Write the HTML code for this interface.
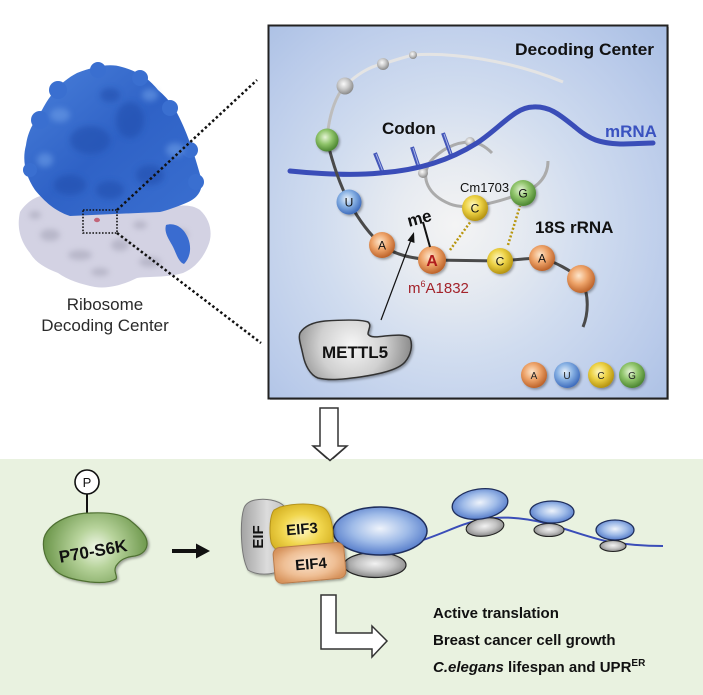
<!DOCTYPE html>
<html><head><meta charset="utf-8"><style>
html,body{margin:0;padding:0;background:#fff;}
svg{display:block;font-family:"Liberation Sans",Arial,sans-serif;}
</style></head><body>
<svg width="703" height="695" viewBox="0 0 703 695" xmlns="http://www.w3.org/2000/svg">
<defs>
<radialGradient id="panelBg" gradientUnits="userSpaceOnUse" cx="455" cy="225" r="300">
<stop offset="0" stop-color="#f4f4f4"/><stop offset="0.2" stop-color="#e7ebf1"/><stop offset="0.45" stop-color="#d0dcef"/><stop offset="0.75" stop-color="#bacbea"/><stop offset="1" stop-color="#a6bce2"/>
</radialGradient>
<radialGradient id="gO" cx="0.42" cy="0.38" r="0.62"><stop offset="0" stop-color="#fde6cc"/><stop offset="0.5" stop-color="#eea46a"/><stop offset="1" stop-color="#bd632a"/></radialGradient>
<radialGradient id="gB" cx="0.42" cy="0.38" r="0.62"><stop offset="0" stop-color="#e8f1fb"/><stop offset="0.5" stop-color="#86b0e3"/><stop offset="1" stop-color="#3e6cbd"/></radialGradient>
<radialGradient id="gY" cx="0.42" cy="0.38" r="0.62"><stop offset="0" stop-color="#fff8bf"/><stop offset="0.5" stop-color="#ecd144"/><stop offset="1" stop-color="#b59310"/></radialGradient>
<radialGradient id="gG" cx="0.42" cy="0.38" r="0.62"><stop offset="0" stop-color="#e5f4d6"/><stop offset="0.5" stop-color="#8fc46a"/><stop offset="1" stop-color="#4c8631"/></radialGradient>
<radialGradient id="gGr" cx="0.42" cy="0.38" r="0.62"><stop offset="0" stop-color="#fafafa"/><stop offset="0.5" stop-color="#c9c9c9"/><stop offset="1" stop-color="#8a8a8a"/></radialGradient>
<radialGradient id="gMet" gradientUnits="userSpaceOnUse" cx="352" cy="345" r="65"><stop offset="0" stop-color="#f6f6f6"/><stop offset="0.5" stop-color="#d0d0d0"/><stop offset="1" stop-color="#7e7e7e"/></radialGradient>
<radialGradient id="gP70" gradientUnits="userSpaceOnUse" cx="96" cy="548" r="58"><stop offset="0" stop-color="#f0f7e8"/><stop offset="0.35" stop-color="#b7d39b"/><stop offset="1" stop-color="#5f8c3d"/></radialGradient>
<radialGradient id="gRibB" cx="0.5" cy="0.45" r="0.6"><stop offset="0" stop-color="#eef3fb"/><stop offset="0.5" stop-color="#9fbbe8"/><stop offset="1" stop-color="#466fc4"/></radialGradient>
<radialGradient id="gRibG" cx="0.5" cy="0.45" r="0.6"><stop offset="0" stop-color="#f2f2f2"/><stop offset="0.5" stop-color="#c3c3c3"/><stop offset="1" stop-color="#7c7c7c"/></radialGradient>
<radialGradient id="gE3" cx="0.5" cy="0.5" r="0.6"><stop offset="0" stop-color="#fff9c8"/><stop offset="0.5" stop-color="#f1d64e"/><stop offset="1" stop-color="#d2ad1d"/></radialGradient>
<radialGradient id="gE4" cx="0.5" cy="0.5" r="0.6"><stop offset="0" stop-color="#fbe4cf"/><stop offset="0.6" stop-color="#efbf95"/><stop offset="1" stop-color="#d7935c"/></radialGradient>
<linearGradient id="gEIF" x1="0" y1="0" x2="1" y2="0"><stop offset="0" stop-color="#a3a3a3"/><stop offset="0.6" stop-color="#dcdcdc"/><stop offset="1" stop-color="#c4c4c4"/></linearGradient>
<linearGradient id="gBlueRib" x1="0" y1="0" x2="1" y2="1"><stop offset="0" stop-color="#4a80da"/><stop offset="0.5" stop-color="#2f62c6"/><stop offset="1" stop-color="#3a6fd0"/></linearGradient>
<filter id="sh" x="-20%" y="-20%" width="140%" height="140%"><feDropShadow dx="1.5" dy="1.5" stdDeviation="1.2" flood-color="#000" flood-opacity="0.35"/></filter>
<filter id="bl" x="-50%" y="-50%" width="200%" height="200%"><feGaussianBlur stdDeviation="3"/></filter>
</defs>

<!-- Ribosome -->
<path d="M20,212 C28,200 40,193 55,195 L80,208 L160,210 C175,205 190,203 200,210 C211,220 213,235 208,246 C203,258 195,268 183,273 C165,278 150,276 137,278 C125,284 110,289 95,287 C80,284 68,280 58,273 C45,268 35,262 30,253 C22,243 16,230 20,212 Z" fill="#d3d2e3"/>
<g fill="#a6a5b8" opacity="0.6" filter="url(#bl)">
<ellipse cx="50" cy="235" rx="10" ry="6"/><ellipse cx="80" cy="255" rx="12" ry="5"/><ellipse cx="120" cy="245" rx="9" ry="6"/><ellipse cx="150" cy="262" rx="11" ry="5"/><ellipse cx="180" cy="235" rx="8" ry="6"/><ellipse cx="100" cy="272" rx="9" ry="4"/><ellipse cx="140" cy="225" rx="7" ry="4"/><ellipse cx="35" cy="215" rx="6" ry="4"/>
</g>
<path d="M77,73 C95,66 110,63 122,67 C140,72 150,80 158,90 C170,100 176,110 181,121 C190,140 196,160 201,178 C204,190 197,199 186,203 C176,207 168,210 160,212 L70,216 C55,211 45,202 35,190 C25,175 22,160 26,145 C28,130 35,120 42,110 C50,95 60,82 77,73 Z" fill="url(#gBlueRib)"/>
<g fill="#3a6fd0">
<circle cx="40" cy="120" r="9"/><circle cx="58" cy="90" r="9"/><circle cx="98" cy="70" r="8"/><circle cx="140" cy="78" r="8"/><circle cx="170" cy="108" r="8"/><circle cx="190" cy="150" r="8"/><circle cx="196" cy="182" r="8"/><circle cx="30" cy="170" r="7"/>
</g>
<g fill="#2450ae" opacity="0.6" filter="url(#bl)">
<ellipse cx="90" cy="140" rx="20" ry="14"/><ellipse cx="130" cy="120" rx="14" ry="18"/><ellipse cx="70" cy="185" rx="16" ry="10"/><ellipse cx="150" cy="175" rx="14" ry="10"/><ellipse cx="110" cy="95" rx="10" ry="7"/><ellipse cx="110" cy="190" rx="14" ry="9"/>
</g>
<g fill="#6a9be6" opacity="0.6" filter="url(#bl)">
<ellipse cx="60" cy="115" rx="10" ry="7"/><ellipse cx="150" cy="95" rx="8" ry="6"/><ellipse cx="175" cy="150" rx="9" ry="7"/><ellipse cx="45" cy="160" rx="8" ry="7"/>
</g>
<path d="M166,225 C175,222 184,228 188,238 C192,248 190,258 184,264 C178,262 176,252 172,245 C168,238 164,232 166,225 Z" fill="#3a6cd0"/>
<rect x="83" y="210" width="34" height="23" fill="none" stroke="#111" stroke-width="1.6" stroke-dasharray="1.6 1.6"/>
<ellipse cx="97" cy="220" rx="3" ry="2.2" fill="#c26579"/>
<line x1="117" y1="210" x2="257" y2="80" stroke="#111" stroke-width="2.5" stroke-dasharray="2.5 2.5"/>
<line x1="117" y1="233" x2="261" y2="343" stroke="#111" stroke-width="2.5" stroke-dasharray="2.5 2.5"/>
<text x="105" y="310" font-size="17" text-anchor="middle" fill="#2a2a2a">Ribosome</text>
<text x="105" y="331" font-size="17" text-anchor="middle" fill="#2a2a2a">Decoding Center</text>

<!-- Panel -->
<rect x="270" y="27" width="399" height="373" fill="#888" opacity="0.5"/>
<rect x="268.5" y="25.5" width="399" height="373" fill="url(#panelBg)" stroke="#222" stroke-width="2"/>
<text x="515" y="55" font-size="17" font-weight="bold" fill="#111" textLength="139" lengthAdjust="spacingAndGlyphs">Decoding Center</text>

<!-- upper grey arc -->
<path d="M327,140 C329,112 337,94 345,86 C356,75 370,66 383,64 C395,60 405,57 413,55 C450,52 510,60 563,82" fill="none" stroke="#e4e4e4" stroke-width="3"/>
<path d="M327,140 C329,112 337,94 345,86" fill="none" stroke="#bdbdbd" stroke-width="3"/>
<circle cx="345" cy="86" r="8.5" fill="url(#gGr)"/>
<circle cx="383" cy="64" r="6" fill="url(#gGr)"/>
<circle cx="413" cy="55" r="4" fill="url(#gGr)"/>

<!-- inner loop -->
<path d="M492,153 C485,146 478,142 470,142 C455,142 440,150 430,162 C420,178 428,195 450,204 C465,210 490,205 523,193 C540,186 548,175 548,161" fill="none" stroke="#ababab" stroke-width="3"/>
<circle cx="470" cy="142" r="5" fill="url(#gGr)"/>
<circle cx="423" cy="173" r="5" fill="url(#gGr)"/>

<!-- codon ticks -->
<g stroke="#4356b8" stroke-width="4" stroke-linecap="butt">
<line x1="375" y1="153" x2="383" y2="173"/>
<line x1="412" y1="147" x2="419" y2="168"/>
<line x1="443" y1="133" x2="451" y2="155"/>
</g>
<g stroke="#aab6e8" stroke-width="1">
<line x1="376" y1="154" x2="383" y2="172"/>
<line x1="413" y1="148" x2="419" y2="167"/>
<line x1="444" y1="134" x2="451" y2="154"/>
</g>
<!-- mRNA -->
<path d="M290,171 C330,175 360,175 380,173 C420,170 450,160 477,143 C500,128 515,107 533,107 C550,106 560,115 575,127 C590,140 600,143 620,144 C635,144 645,143 653,143" fill="none" stroke="#3a4db8" stroke-width="5" stroke-linecap="round"/>
<text x="382" y="134" font-size="17" font-weight="bold" fill="#111">Codon</text>
<text x="605" y="137" font-size="17" font-weight="bold" fill="#3a52c0">mRNA</text>

<!-- rRNA strand -->
<path d="M327,140 C333,165 340,185 349,202 C360,222 370,235 382,245 C395,255 410,258 432,260 L500,261 C515,260 530,258 542,258 C555,262 570,270 581,279 C590,295 588,315 583,327" fill="none" stroke="#4a4a4a" stroke-width="3"/>
<line x1="450" y1="250" x2="471" y2="221" stroke="#b8960e" stroke-width="2.5" stroke-dasharray="2 2"/>
<line x1="508" y1="245" x2="520" y2="206" stroke="#b8960e" stroke-width="2.5" stroke-dasharray="2 2"/>

<g filter="url(#sh)">
<circle cx="327" cy="140" r="11.5" fill="url(#gG)"/>
<circle cx="349" cy="202" r="12.5" fill="url(#gB)"/>
<circle cx="382" cy="245" r="13" fill="url(#gO)"/>
<circle cx="432" cy="260" r="14" fill="url(#gO)"/>
<circle cx="500" cy="261" r="13" fill="url(#gY)"/>
<circle cx="542" cy="258" r="13" fill="url(#gO)"/>
<circle cx="581" cy="279" r="14" fill="url(#gO)"/>
<circle cx="475" cy="208" r="13" fill="url(#gY)"/>
<circle cx="523" cy="193" r="13" fill="url(#gG)"/>
<circle cx="534" cy="375" r="13" fill="url(#gO)"/>
<circle cx="567" cy="375" r="13" fill="url(#gB)"/>
<circle cx="601" cy="375" r="13" fill="url(#gY)"/>
<circle cx="632" cy="375" r="13" fill="url(#gG)"/>
</g>
<g font-size="12" text-anchor="middle" fill="#111">
<text x="349" y="206.5">U</text>
<text x="382" y="249.5">A</text>
<text x="500" y="265.5">C</text>
<text x="542" y="262.5">A</text>
<text x="475" y="212.5">C</text>
<text x="523" y="197.5">G</text>
</g>
<g font-size="10" text-anchor="middle" fill="#222">
<text x="534" y="379">A</text>
<text x="567" y="379">U</text>
<text x="601" y="379">C</text>
<text x="632" y="379">G</text>
</g>
<text x="432" y="266" font-size="16" font-weight="bold" text-anchor="middle" fill="#b01c1c">A</text>
<text x="460" y="192" font-size="13" fill="#111">Cm1703</text>
<text x="535" y="233" font-size="17" font-weight="bold" fill="#111">18S rRNA</text>
<text x="408" y="293" font-size="15" fill="#a3232b">m<tspan font-size="9" dy="-6">6</tspan><tspan dy="6">A1832</tspan></text>
<text x="407" y="224" font-size="17" font-weight="bold" fill="#111" transform="rotate(-15 419 218)">me</text>
<line x1="423" y1="222" x2="430" y2="247" stroke="#111" stroke-width="2"/>
<line x1="381" y1="320" x2="411" y2="240" stroke="#111" stroke-width="1.2"/>
<polygon points="414,232 414.5,243 407.5,240.5" fill="#111"/>

<!-- METTL5 -->
<path d="M300,333 C305,325 315,322 325,321 C340,320 360,319 368,322 C372,325 368,330 368,334 C370,338 378,337 385,336 C395,335 405,334 410,338 C413,345 411,355 405,362 C398,370 380,374 360,377 C345,379 330,381 318,378 C310,375 305,365 303,355 C301,345 298,338 300,333 Z" fill="url(#gMet)" stroke="#333" stroke-width="1.5" filter="url(#sh)"/>
<text x="355" y="358" font-size="17" font-weight="bold" text-anchor="middle" fill="#111">METTL5</text>

<!-- down hollow arrow -->
<polygon points="320,408 338,408 338,446 347,446 330,461 313,446 320,446" fill="#fff" stroke="#333" stroke-width="1.5"/>

<!-- Bottom green region -->
<rect x="0" y="459" width="703" height="236" fill="#e9f2e0"/>
<path d="M314,446.7 L330,460.5 L346,446.7" fill="none" stroke="#333" stroke-width="1.5"/>

<!-- P70-S6K -->
<line x1="87" y1="494" x2="87" y2="514" stroke="#111" stroke-width="2"/>
<circle cx="87" cy="482" r="12" fill="#fff" stroke="#111" stroke-width="1.6"/>
<text x="87" y="487" font-size="13" text-anchor="middle" fill="#111">P</text>
<path d="M90,513 C110,512 125,515 132,522 C142,530 148,538 147,545 C146,552 140,555 135,556 C125,557 120,560 116,566 C113,572 118,576 116,579 C110,583 100,583 90,582 C75,580 60,577 53,568 C45,560 42,548 44,538 C47,528 57,521 68,517 C76,514 84,513 90,513 Z" fill="url(#gP70)" stroke="#4f7033" stroke-width="1.2" filter="url(#sh)"/>
<text x="93" y="557" font-size="17" font-weight="bold" text-anchor="middle" fill="#111" transform="rotate(-10 93 551)">P70-S6K</text>
<line x1="172" y1="551" x2="199" y2="551" stroke="#111" stroke-width="4"/>
<polygon points="196,543.5 210,551 196,558.5" fill="#111"/>

<!-- polysome mRNA -->
<path d="M420,541 C445,533 460,524 480,520 C500,516 520,517 545,523 C570,530 590,538 610,542 C630,545 650,546 663,546" fill="none" stroke="#3a4db8" stroke-width="2"/>

<!-- ribosome 1 -->
<ellipse cx="375" cy="565" rx="31" ry="12.5" fill="url(#gRibG)" stroke="#222" stroke-width="1.2"/>
<ellipse cx="380" cy="531" rx="47" ry="24" fill="url(#gRibB)" stroke="#1f2e5c" stroke-width="1.5"/>
<!-- ribosome 2 -->
<ellipse cx="485" cy="527" rx="19" ry="9" fill="url(#gRibG)" stroke="#222" stroke-width="1.1" transform="rotate(-8 485 527)"/>
<ellipse cx="480" cy="504" rx="28" ry="15" fill="url(#gRibB)" stroke="#1f2e5c" stroke-width="1.3" transform="rotate(-8 480 504)"/>
<!-- ribosome 3 -->
<ellipse cx="549" cy="530" rx="15" ry="6.5" fill="url(#gRibG)" stroke="#222" stroke-width="1.1"/>
<ellipse cx="552" cy="512" rx="22" ry="11" fill="url(#gRibB)" stroke="#1f2e5c" stroke-width="1.3"/>
<!-- ribosome 4 -->
<ellipse cx="613" cy="546" rx="13" ry="5.5" fill="url(#gRibG)" stroke="#222" stroke-width="1.1"/>
<ellipse cx="615" cy="530" rx="19" ry="10" fill="url(#gRibB)" stroke="#1f2e5c" stroke-width="1.3"/>

<!-- EIF cluster -->
<path d="M255,500 C265,498 278,500 284,506 L281,570 C271,576 256,575 248,570 C240,555 240,520 244,508 C246,503 250,501 255,500 Z" fill="url(#gEIF)" stroke="#777" stroke-width="1" filter="url(#sh)"/>
<text x="0" y="0" font-size="15" font-weight="bold" text-anchor="middle" fill="#111" transform="translate(263,537) rotate(-90)">EIF</text>
<path d="M280,507 C295,503 312,503 322,507 C330,510 334,525 333,545 L290,555 C280,553 273,549 271,542 C269,530 270,515 274,510 Z" fill="url(#gE3)" stroke="#b3921d" stroke-width="1" filter="url(#sh)"/>
<text x="302" y="534" font-size="15" font-weight="bold" text-anchor="middle" fill="#111" transform="rotate(-5 302 529)">EIF3</text>
<rect x="274" y="545" width="71" height="36" rx="7" fill="url(#gE4)" stroke="#b97a48" stroke-width="1" transform="rotate(-5 309 563)" filter="url(#sh)"/>
<text x="311" y="569" font-size="15" font-weight="bold" text-anchor="middle" fill="#111" transform="rotate(-5 311 564)">EIF4</text>

<!-- L arrow -->
<polygon points="321,595 336,595 336,633 372,633 372,626 387,641 372,657 372,649 321,649" fill="#fff" stroke="#333" stroke-width="1.5"/>

<!-- outcome texts -->
<g font-size="15" font-weight="bold" fill="#111">
<text x="433" y="618">Active translation</text>
<text x="433" y="645">Breast cancer cell growth</text>
<text x="433" y="672"><tspan font-style="italic">C.elegans</tspan> lifespan and UPR<tspan font-size="10" dy="-6">ER</tspan></text>
</g>
</svg>
</body></html>
